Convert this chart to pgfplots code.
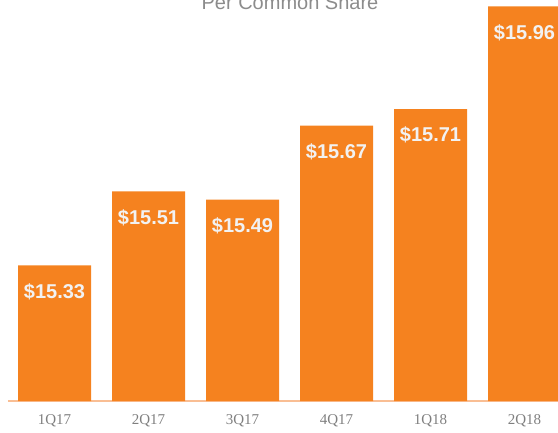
\documentclass[border=0pt]{standalone}
\usepackage{fontspec}
\setmainfont{Liberation Serif}
\newfontfamily\arial{Liberation Sans}
\usepackage{pgfplots}
\pgfplotsset{compat=1.18}

\definecolor{barorange}{HTML}{F5821F}
\definecolor{baseline}{HTML}{F9BE94}
\definecolor{titlegrey}{HTML}{8C8C8C}
\definecolor{tickgrey}{HTML}{7F7F7F}

\begin{document}
\begin{tikzpicture}[x=1pt,y=1pt]
\begin{axis}[
  at={(8pt,31pt)}, anchor=south west,
  scale only axis, width=550pt, height=401pt,
  ybar, bar width=0.777,
  xmin=-0.495, xmax=5.356,
  ymin=15, ymax=15.9757,
  axis x line=bottom, axis y line=none,
  x axis line style={-, draw=baseline, line width=1.5pt},
  xtick=data,
  xticklabels={1Q17,2Q17,3Q17,4Q17,1Q18,2Q18},
  major tick length=0pt,
  xticklabel style={font=\fontsize{15}{17}\selectfont, text=tickgrey, yshift=-10pt},
  nodes near coords={\$\pgfmathprintnumber[fixed,fixed zerofill,precision=2,assume math mode=true]{\pgfplotspointmeta}},
  nodes near coords style={font=\arial\bfseries\fontsize{20}{22}\selectfont, text=white!95!black, anchor=center, yshift=-26pt},
  clip=false,
]
\addplot[fill=barorange, draw=none] coordinates {
  (0,15.33) (1,15.51) (2,15.49) (3,15.67) (4,15.71) (5,15.96)};
\end{axis}
\node[anchor=base, text=titlegrey, font=\arial\fontsize{20}{22}\selectfont] at (290pt,422pt) {Per Common Share};
\pgfresetboundingbox
\useasboundingbox (0,0) rectangle (558pt,432pt);
\end{tikzpicture}
\end{document}
